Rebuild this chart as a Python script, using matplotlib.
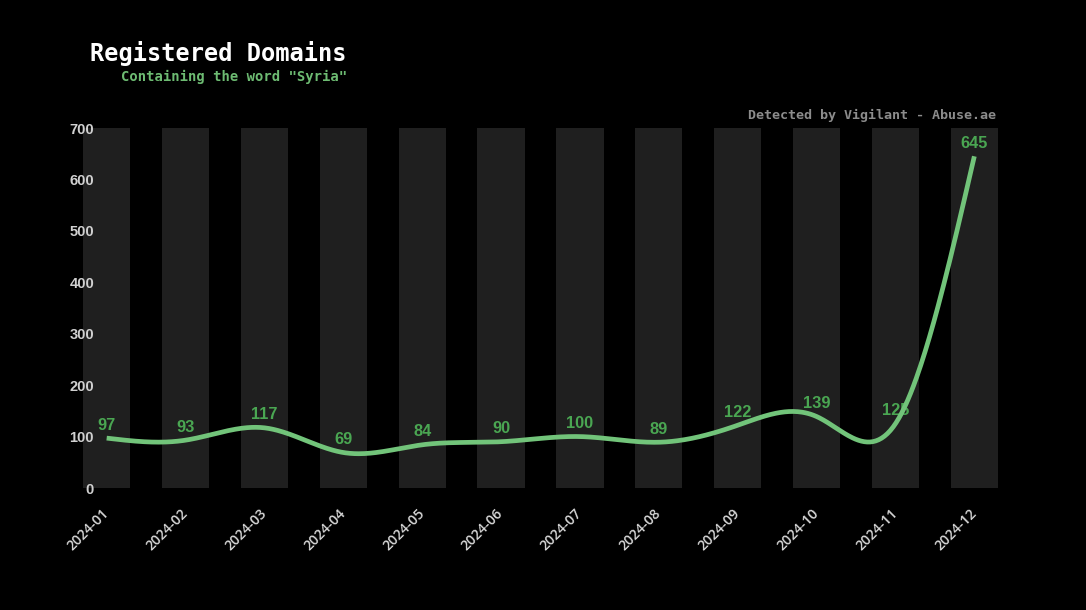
import numpy as np
import matplotlib
matplotlib.use("Agg")
import matplotlib.pyplot as plt

months = ["2024-01", "2024-02", "2024-03", "2024-04", "2024-05", "2024-06",
          "2024-07", "2024-08", "2024-09", "2024-10", "2024-11", "2024-12"]
counts = [97, 93, 117, 69, 84, 90, 100, 89, 122, 139, 125, 645]
y_max = 700
y_ticks = [0, 100, 200, 300, 400, 500, 600, 700]

title = "Registered Domains"
subtitle = 'Containing the word "Syria"'
credit = "Detected by Vigilant - Abuse.ae"


def natural_spline(x, y, xs):
    x = np.asarray(x, float)
    y = np.asarray(y, float)
    n = len(x)
    h = np.diff(x)
    A = np.zeros((n, n))
    b = np.zeros(n)
    A[0, 0] = 1
    A[-1, -1] = 1
    for i in range(1, n - 1):
        A[i, i - 1] = h[i - 1]
        A[i, i] = 2 * (h[i - 1] + h[i])
        A[i, i + 1] = h[i]
        b[i] = 3 * ((y[i + 1] - y[i]) / h[i] - (y[i] - y[i - 1]) / h[i - 1])
    c = np.linalg.solve(A, b)
    out = np.empty_like(xs)
    for k, xv in enumerate(xs):
        i = min(max(np.searchsorted(x, xv) - 1, 0), n - 2)
        dx = xv - x[i]
        bi = (y[i + 1] - y[i]) / h[i] - h[i] * (2 * c[i] + c[i + 1]) / 3
        di = (c[i + 1] - c[i]) / (3 * h[i])
        out[k] = y[i] + bi * dx + c[i] * dx ** 2 + di * dx ** 3
    return out


fig = plt.figure(figsize=(10.86, 6.10), dpi=100, facecolor="black")
ax = fig.add_axes([83 / 1086, 122 / 610, 915 / 1086, 360 / 610])
ax.set_facecolor("black")

x = np.arange(len(months))
ax.bar(x, [y_max] * len(months), width=0.6, color="#1f1f1f", zorder=1)

xs = np.linspace(0, len(months) - 1, 600)
ys = natural_spline(x, counts, xs)
ax.plot(xs, ys, color="#72c47a", lw=3.4, solid_capstyle="butt", zorder=4)

for xi, v in zip(x, counts):
    ax.annotate(str(v), (xi, v), xytext=(0, 6), textcoords="offset points",
                ha="center", va="baseline", color="#4aa652",
                fontsize=11.8, fontweight="bold", family="Liberation Sans", zorder=3)

ax.set_xlim(-0.3, len(months) - 0.7)
ax.set_ylim(0, y_max)
ax.set_yticks(y_ticks)
ax.set_yticklabels([str(t) for t in y_ticks], fontsize=10.5, fontweight="bold",
                   family="Liberation Sans", color="#d0d0d0")
ax.tick_params(axis="y", length=0, pad=-8)
ax.set_xticks(x)
ax.set_xticklabels(months, rotation=45, ha="right", va="center",
                   rotation_mode="anchor", fontsize=10, color="#d8d8d8",
                   family="Open Sans", fontweight="semibold")
ax.tick_params(axis="x", length=0, pad=17)
for s in ax.spines.values():
    s.set_visible(False)

fig.text(90 / 1086, 1 - 61 / 610, title, family="DejaVu Sans Mono",
         fontweight="bold", fontsize=17, color="white", va="baseline")
fig.text(121 / 1086, 1 - 81 / 610, subtitle, family="DejaVu Sans Mono",
         fontweight="bold", fontsize=10, color="#6dbb72", va="baseline")
fig.text(996 / 1086, 1 - 119 / 610, credit, family="DejaVu Sans Mono",
         fontweight="bold", fontsize=9.6, color="#8c8c8c", va="baseline", ha="right")

fig.savefig("out.png", dpi=100, facecolor="black")
